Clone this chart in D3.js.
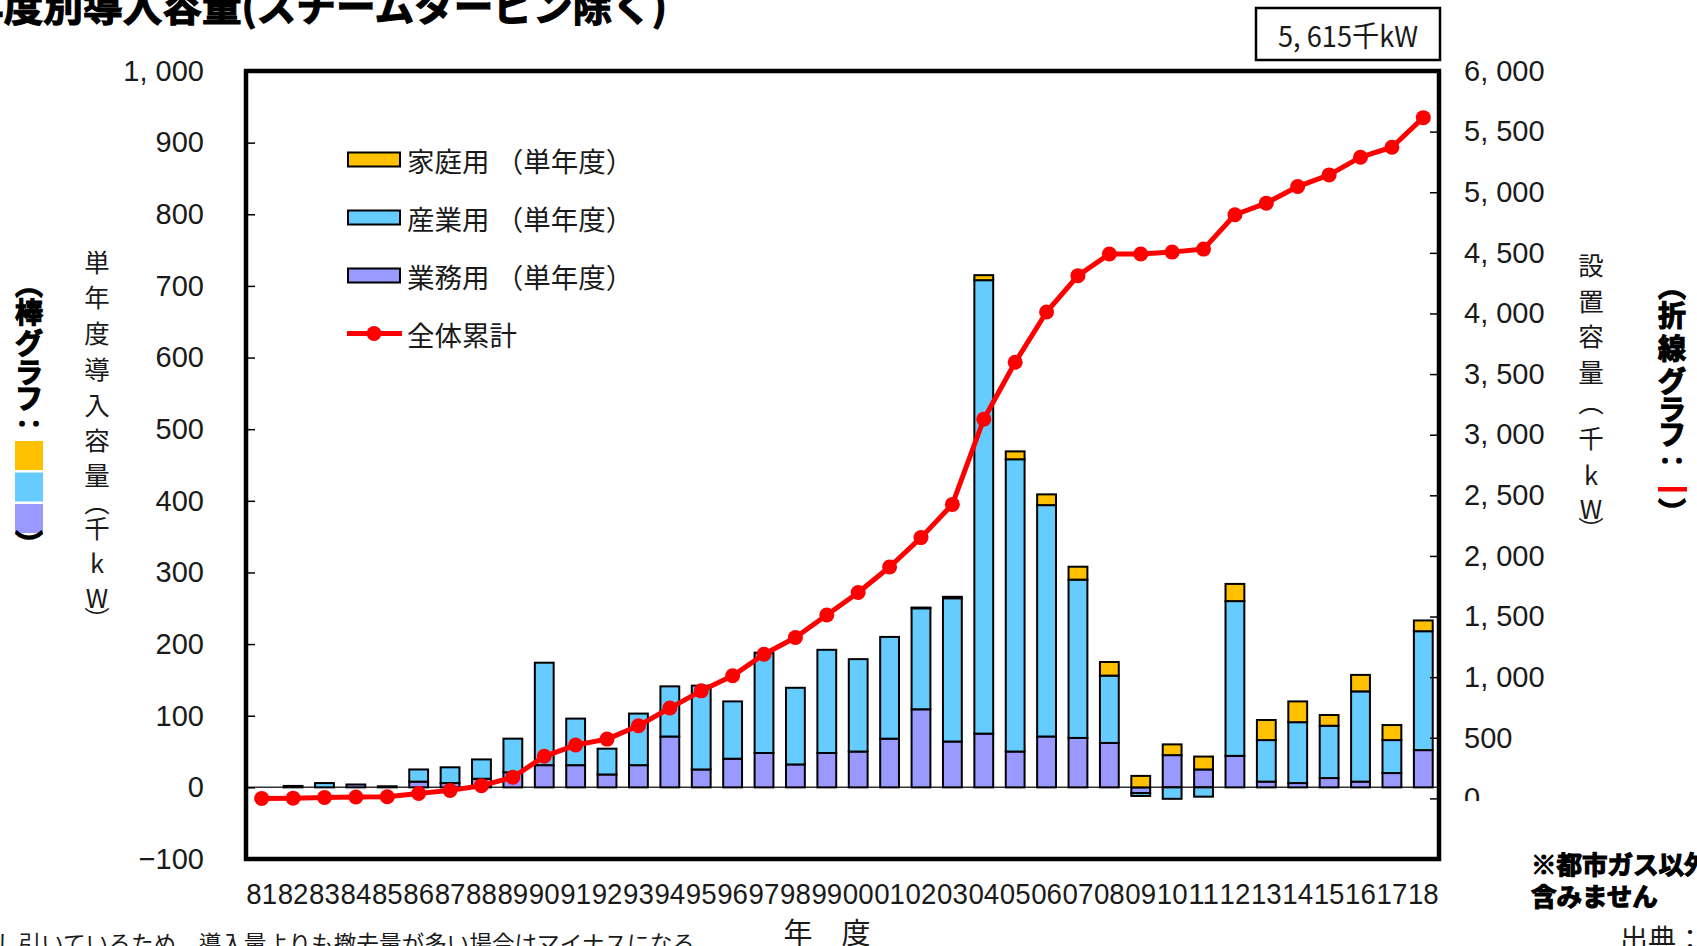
<!DOCTYPE html>
<html>
<head>
<meta charset="utf-8">
<script src="https://cdn.jsdelivr.net/npm/d3@7"></script>
<style>
  html, body { margin: 0; padding: 0; background: #fff; overflow: hidden; }
  svg { display: block; }
  text { font-family: "Noto Sans CJK JP", "Noto Sans", sans-serif; }
  .num { font-family: "Liberation Sans", Arial, sans-serif; fill: #1a1a1a; }
  .heavy { font-weight: 700; stroke: #000; stroke-width: 1.2px; fill: #000; }
</style>
</head>
<body>
<svg id="chart" width="1697" height="946"></svg>
<script>
// Fiscal years (two-digit), 1981 - 2018
const years = ["81","82","83","84","85","86","87","88","89","90","91","92","93","94","95","96","97","98","99",
               "00","01","02","03","04","05","06","07","08","09","10","11","12","13","14","15","16","17","18"];

// Single-year installed capacity (thousand kW) by sector
const commercial  = [0, 0, 0, 4, 0, 8, 6, 12, 21, 31, 31, 18, 31, 71, 25, 40, 48, 32, 48,
                     50, 68, 109, 64, 75, 50, 71, 69, 62, -8, 45, 25, 44, 8, 6, 13, 8, 20, 52];   // 業務用
const industrial  = [0, 2, 6, 0, 1.5, 17, 22, 27, 47, 143, 65, 36, 72, 70, 117, 80, 140, 107, 144,
                     129, 142, 141, 200, 633, 408, 323, 221, 94, -4, -16, -13, 216, 58, 85, 73, 126, 46, 166]; // 産業用
const residential = [0, 0, 0, 0, 0, 0, 0, 0, 0, 0, 0, 0, 0, 0, 0, 0, 0, 0, 0,
                     0, 0, 1, 2, 7, 11, 15, 18, 19, 16, 15, 18, 24, 28, 29, 15, 23, 21, 15];      // 家庭用

// Cumulative installed capacity, all sectors (thousand kW)
const cumulative  = [0, 2, 8, 12, 14, 40, 66, 105, 174, 347, 440, 489, 599, 745, 887, 1011, 1189, 1327, 1513,
                     1698, 1909, 2151, 2425, 3128, 3597, 4012, 4312, 4490, 4490, 4506, 4531, 4814, 4910, 5047,
                     5143, 5289, 5371, 5615];

const leftTicks  = [-100, 0, 100, 200, 300, 400, 500, 600, 700, 800, 900, 1000];
const rightTicks = [0, 500, 1000, 1500, 2000, 2500, 3000, 3500, 4000, 4500, 5000, 5500, 6000];

const seriesKeys   = ["業務用", "産業用", "家庭用"];
const seriesColors = { "業務用": "#9999FF", "産業用": "#66CCFF", "家庭用": "#FFC000" };
const lineColor = "#FF0000";

const svg = d3.select("#chart");

// Plot frame
const frame = { left: 246, right: 1439, top: 71, bottom: 859 };

const x = d3.scaleBand().domain(years).range([frame.left, frame.right])
  .paddingInner(0.4).paddingOuter(0.2);
const yL = d3.scaleLinear().domain([-100, 1000]).range([frame.bottom, frame.top]);
const yR = d3.scaleLinear().domain([-500, 6000]).range([frame.bottom, frame.top]);

const fmt = v => d3.format(",")(v).replace(",", ", ");

// Zero reference line for the bars
svg.append("line")
  .attr("x1", frame.left).attr("x2", frame.right)
  .attr("y1", yL(0)).attr("y2", yL(0))
  .attr("stroke", "#333").attr("stroke-width", 1.5);

// Stacked bars (positive and negative parts stacked separately)
const rows = years.map((yr, i) => ({
  year: yr, "業務用": commercial[i], "産業用": industrial[i], "家庭用": residential[i]
}));
const stacked = d3.stack().keys(seriesKeys).offset(d3.stackOffsetDiverging)(rows);

svg.append("g").selectAll("g").data(stacked).join("g")
  .attr("fill", s => seriesColors[s.key])
  .selectAll("rect")
  .data(s => s.filter(d => d[1] !== d[0]))
  .join("rect")
  .attr("x", d => x(d.data.year))
  .attr("width", x.bandwidth())
  .attr("y", d => yL(Math.max(d[0], d[1])))
  .attr("height", d => Math.abs(yL(d[0]) - yL(d[1])))
  .attr("stroke", "#000").attr("stroke-width", 2);

// Cumulative line with markers
const cx = yr => x(yr) + x.bandwidth() / 2;
svg.append("path")
  .datum(years.map((yr, i) => [yr, cumulative[i]]))
  .attr("fill", "none").attr("stroke", lineColor).attr("stroke-width", 5)
  .attr("stroke-linejoin", "round")
  .attr("d", d3.line().x(d => cx(d[0])).y(d => yR(d[1])));

svg.append("g").selectAll("circle")
  .data(years.map((yr, i) => [yr, cumulative[i]]))
  .join("circle")
  .attr("cx", d => cx(d[0])).attr("cy", d => yR(d[1])).attr("r", 7.5)
  .attr("fill", lineColor);

// Frame
svg.append("rect")
  .attr("x", frame.left).attr("y", frame.top)
  .attr("width", frame.right - frame.left).attr("height", frame.bottom - frame.top)
  .attr("fill", "none").attr("stroke", "#000").attr("stroke-width", 4.5);

// Left axis (single-year bars)
const gL = svg.append("g").attr("transform", `translate(${frame.left},0)`)
  .call(d3.axisLeft(yL).tickValues(leftTicks).tickSize(-9).tickPadding(42).tickFormat(fmt));
// Right axis (cumulative line)
const gR = svg.append("g").attr("transform", `translate(${frame.right},0)`)
  .call(d3.axisRight(yR).tickValues(rightTicks).tickSize(-9).tickPadding(25).tickFormat(fmt));
// Bottom axis (fiscal years)
const gB = svg.append("g").attr("transform", `translate(0,${frame.bottom})`)
  .call(d3.axisBottom(x).tickSize(0).tickPadding(24));

[gL, gR, gB].forEach(g => {
  g.select(".domain").remove();
  g.selectAll(".tick line").attr("stroke", "#000").attr("stroke-width", 1.5);
  g.selectAll(".tick text").attr("class", "num").attr("font-size", 29).attr("fill", "#1a1a1a");
});
gB.selectAll(".tick text").attr("textLength", x.step() - 0.6).attr("lengthAdjust", "spacingAndGlyphs");

// Title (runs off the top-left edge)
svg.append("text").attr("class", "heavy")
  .attr("x", -36).attr("y", 21).attr("font-size", 40).attr("stroke-width", 1.6)
  .attr("textLength", 703).attr("lengthAdjust", "spacingAndGlyphs")
  .text("年度別導入容量(スチームタービン除く)");

// Latest cumulative total box
const boxText = fmt(cumulative[cumulative.length - 1]) + "千kW";
svg.append("rect").attr("x", 1256).attr("y", 8).attr("width", 184).attr("height", 52)
  .attr("fill", "#fff").attr("stroke", "#000").attr("stroke-width", 2.5);
svg.append("text").attr("x", 1348).attr("y", 34).attr("dominant-baseline", "central")
  .attr("text-anchor", "middle").attr("font-size", 29).attr("fill", "#1a1a1a")
  .attr("textLength", 140).attr("lengthAdjust", "spacingAndGlyphs")
  .text(boxText);

// Legend
const legendItems = [
  { label: "家庭用 （単年度）", color: seriesColors["家庭用"] },
  { label: "産業用 （単年度）", color: seriesColors["産業用"] },
  { label: "業務用 （単年度）", color: seriesColors["業務用"] },
  { label: "全体累計", line: true }
];
const legend = svg.append("g");
legendItems.forEach((it, i) => {
  const cy = 159.5 + i * 58;
  if (it.line) {
    legend.append("line").attr("x1", 347).attr("x2", 402).attr("y1", cy).attr("y2", cy)
      .attr("stroke", lineColor).attr("stroke-width", 5);
    legend.append("circle").attr("cx", 374).attr("cy", cy).attr("r", 7.5).attr("fill", lineColor);
  } else {
    legend.append("rect").attr("x", 348).attr("y", cy - 7).attr("width", 52).attr("height", 14)
      .attr("fill", it.color).attr("stroke", "#000").attr("stroke-width", 2);
  }
  legend.append("text").attr("x", 407).attr("y", cy).attr("dominant-baseline", "central")
    .attr("font-size", 27.5).attr("fill", "#1a1a1a").text(it.label);
});

// Vertical text: a single text element, one tspan per glyph
function verticalText(chars, ys, xc, size, cls) {
  const t = svg.append("text").attr("text-anchor", "middle")
    .attr("dominant-baseline", "central").attr("font-size", size)
    .attr("class", cls || null).attr("fill", "#1a1a1a");
  chars.forEach((c, i) => {
    t.append("tspan").attr("x", xc).attr("y", ys[i]).attr("dominant-baseline", "central").text(c);
  });
  return t;
}

// Axis titles
verticalText(["単","年","度","導","入","容","量","︵","千","k","W","︶"],
  [260, 295, 331, 367, 403, 438, 473, 500, 526, 561, 596, 617], 97, 25.5);
verticalText(["設","置","容","量","︵","千","k","W","︶"],
  [263, 299, 334, 370, 400, 436, 473, 507, 527], 1591, 25.5);
svg.append("text").attr("x", 827).attr("y", 931).attr("text-anchor", "middle")
  .attr("dominant-baseline", "central").attr("font-size", 29).attr("fill", "#1a1a1a")
  .text("年　度");

// Side keys: bar graph colours (left) and line graph colour (right)
verticalText(["︵","棒","グ","ラ","フ","‥"], [283, 311, 342, 371, 397, 423], 29, 28, "heavy")
  .attr("stroke-width", 1.5);
seriesKeys.slice().reverse().forEach((k, i) => {
  svg.append("rect").attr("x", 15).attr("y", 441 + i * 31.5).attr("width", 28).attr("height", 29)
    .attr("fill", seriesColors[k]);
});
verticalText(["︶"], [543], 29, 28, "heavy").attr("stroke-width", 1.5);

verticalText(["︵","折","線","グ","ラ","フ","‥"], [285, 314, 347, 380, 408, 433, 460], 1672, 28, "heavy")
  .attr("stroke-width", 1.5);
svg.append("rect").attr("x", 1658).attr("y", 487).attr("width", 29).attr("height", 4.5).attr("fill", lineColor);
verticalText(["︶"], [511], 1672, 28, "heavy").attr("stroke-width", 1.5);

// Notes (white box overlaps the lower part of the right axis)
svg.append("rect").attr("x", 1452).attr("y", 801).attr("width", 245).attr("height", 110).attr("fill", "#fff");
svg.append("text").attr("class", "heavy").attr("x", 1531).attr("y", 862)
  .attr("dominant-baseline", "central").attr("font-size", 25.5).attr("stroke-width", 0.9)
  .text("※都市ガス以外");
svg.append("text").attr("class", "heavy").attr("x", 1531).attr("y", 894)
  .attr("dominant-baseline", "central").attr("font-size", 25.5).attr("stroke-width", 0.9)
  .text("含みません");
svg.append("text").attr("x", -4).attr("y", 952).attr("font-size", 22.6).attr("fill", "#1a1a1a")
  .text("し引いているため、導入量よりも撤去量が多い場合はマイナスになる");
svg.append("text").attr("x", 1620).attr("y", 950).attr("font-size", 28).attr("fill", "#1a1a1a")
  .text("出典：");
</script>
</body>
</html>
